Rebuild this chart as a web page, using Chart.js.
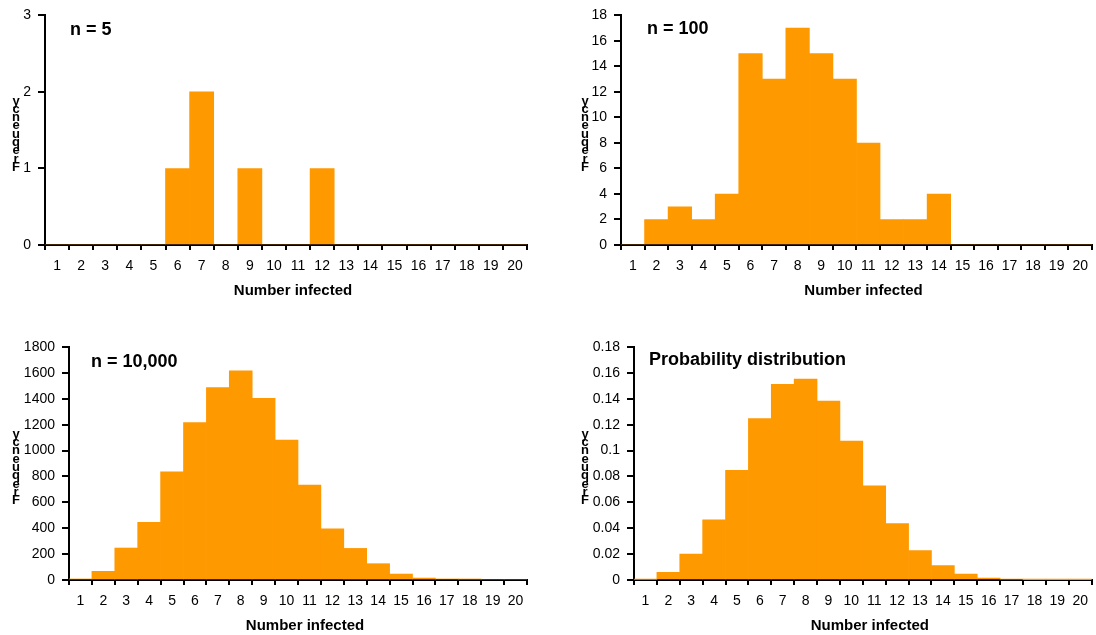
<!DOCTYPE html>
<html><head><meta charset="utf-8">
<script src="https://cdn.jsdelivr.net/npm/chart.js@4/dist/chart.umd.min.js"></script>
<style>
html,body{margin:0;padding:0;background:#fff;}
#wrap{position:relative;width:1096px;height:635px;overflow:hidden;background:#fff;}
canvas{position:absolute;}
</style></head><body>
<div id="wrap">
<canvas id="c1" width="548" height="318" style="left:0;top:0"></canvas>
<canvas id="c2" width="548" height="318" style="left:548px;top:0"></canvas>
<canvas id="c3" width="548" height="317" style="left:0;top:318px"></canvas>
<canvas id="c4" width="548" height="317" style="left:548px;top:318px"></canvas>
</div>
<script>
// ---- data ----
const categories = ['1','2','3','4','5','6','7','8','9','10','11','12','13','14','15','16','17','18','19','20'];
const n5Counts = [0,0,0,0,0,1,2,0,1,0,0,1,0,0,0,0,0,0,0,0];
const n100Counts = [0,2,3,2,4,15,13,17,15,13,8,2,2,4,0,0,0,0,0,0];
const n10000Counts = [8,67,247,445,836,1216,1486,1615,1404,1080,733,396,244,126,46,15,8,7,0,0];
const probValues = [0.0005,0.0059,0.0201,0.0465,0.0847,0.1247,0.1511,0.1552,0.1382,0.1074,0.0728,0.0436,0.0227,0.0111,0.0046,0.0015,0.0006,0.0003,0.0002,0.0001];
const n5TickLabels = ['0','1','2','3'];
const n100TickLabels = ['0','2','4','6','8','10','12','14','16','18'];
const n10000TickLabels = ['0','200','400','600','800','1000','1200','1400','1600','1800'];
const probTickLabels = ['0','0.02','0.04','0.06','0.08','0.1','0.12','0.14','0.16','0.18'];
const panelTitles = ['n = 5','n = 100','n = 10,000','Probability distribution'];
const xAxisTitle = 'Number infected';
const yAxisTitle = 'Frequency';

const ORANGE = '#FF9900';
const FONT = "'Liberation Sans', Arial, sans-serif";

const textPlugin = {
  id: 'panelText',
  afterDraw(chart, args, o) {
    const ctx = chart.ctx, ca = chart.chartArea;
    ctx.save();
    ctx.fillStyle = '#000';
    // panel title
    ctx.font = 'bold 18px ' + FONT;
    ctx.textAlign = 'left';
    ctx.textBaseline = 'middle';
    ctx.fillText(o.title, ca.left + o.titleDx, o.titleY);
    // x-axis title
    ctx.font = 'bold 15px ' + FONT;
    ctx.textAlign = 'center';
    ctx.fillText(xAxisTitle, (ca.left + ca.right) / 2 + 7, ca.bottom + 46);
    // y-axis title, letters stacked bottom-to-top
    ctx.font = 'bold 13px ' + FONT;
    const letters = yAxisTitle.split('');
    const step = 8.3;
    const mid = (ca.top + ca.bottom) / 2 + 4;
    const n = letters.length;
    for (let i = 0; i < n; i++) {
      const y = mid + ((n - 1) / 2 - i) * step;
      ctx.fillText(letters[i], o.yTitleX, y);
    }
    ctx.restore();
  }
};

function makePanel(id, values, maxV, stepV, tickLabels, box, title, titleDx, titleY, yTitleX) {
  const cv = document.getElementById(id);
  const W = cv.width, H = cv.height;
  const xH = 50;
  new Chart(cv, {
    type: 'bar',
    data: { labels: categories, datasets: [{ data: values, backgroundColor: ORANGE, borderWidth: 0,
      barPercentage: 1, categoryPercentage: 1 }] },
    plugins: [textPlugin],
    options: {
      responsive: false, animation: false, devicePixelRatio: 1,
      layout: { padding: { left: 0, top: box.top, right: W - box.right, bottom: H - box.bottom - xH } },
      plugins: { legend: { display: false }, tooltip: { enabled: false },
        panelText: { title: title, titleDx: titleDx, titleY: titleY, yTitleX: yTitleX } },
      scales: {
        x: {
          offset: true,
          grid: { display: true, offset: true, drawOnChartArea: false, drawTicks: true, tickLength: 5, color: '#000', lineWidth: 2 },
          border: { display: true, color: '#000', width: 2 },
          ticks: { color: '#000', font: { family: FONT, size: 14 }, padding: 8, maxRotation: 0, autoSkip: false },
          afterFit(s) { s.height = xH; }
        },
        y: {
          min: 0, max: maxV,
          grid: { display: true, drawOnChartArea: false, drawTicks: true, tickLength: 7, color: '#000', lineWidth: 2 },
          border: { display: true, color: '#000', width: 2 },
          ticks: { stepSize: stepV, color: '#000', font: { family: FONT, size: 14 }, padding: 7,
            callback: (v, i) => tickLabels[i] !== undefined ? tickLabels[i] : String(v) },
          afterFit(s) { s.width = box.left; }
        }
      }
    }
  });
}

makePanel('c1', n5Counts, 3, 1, n5TickLabels, {left:45, top:14, right:527, bottom:245}, panelTitles[0], 25, 30, 16);
makePanel('c2', n100Counts, 18, 2, n100TickLabels, {left:73, top:14, right:547, bottom:245}, panelTitles[1], 26, 29, 37);
makePanel('c3', n10000Counts, 1800, 200, n10000TickLabels, {left:69, top:29, right:527, bottom:262}, panelTitles[2], 22, 44, 16);
makePanel('c4', probValues, 0.18, 0.02, probTickLabels, {left:86, top:29, right:547, bottom:262}, panelTitles[3], 15, 42, 37);
</script>
</body></html>
